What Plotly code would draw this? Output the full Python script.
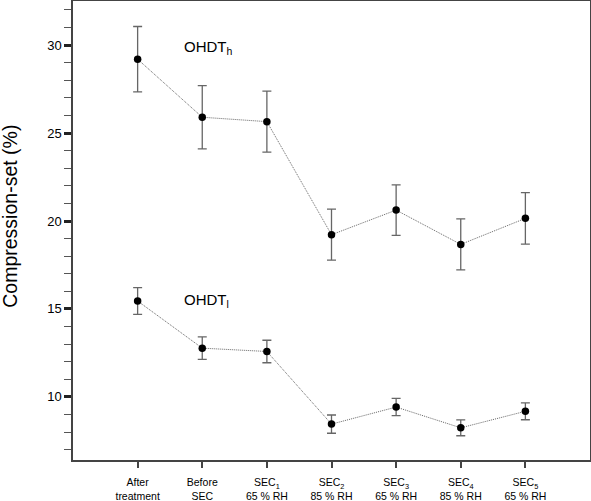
"""
Compression-set of OHDT samples across sorption cycles
"""
import plotly.graph_objects as go

categories = ['After<br>treatment', 'Before<br>SEC',
              'SEC<sub>1</sub><br>65 % RH', 'SEC<sub>2</sub><br>85 % RH',
              'SEC<sub>3</sub><br>65 % RH', 'SEC<sub>4</sub><br>85 % RH',
              'SEC<sub>5</sub><br>65 % RH']
xpos = [0, 1, 2, 3, 4, 5, 6]

# OHDT_h series
high_mean = [29.2, 25.9, 25.65, 19.22, 20.62, 18.67, 20.15]
high_err = [1.86, 1.8, 1.73, 1.45, 1.44, 1.45, 1.46]

# OHDT_l series
low_mean = [15.45, 12.77, 12.58, 8.45, 9.42, 8.24, 9.18]
low_err = [0.76, 0.64, 0.64, 0.52, 0.49, 0.45, 0.48]

fig = go.Figure()

for mean, err in [(high_mean, high_err), (low_mean, low_err)]:
    fig.add_trace(go.Scatter(
        x=xpos,
        y=mean,
        mode='lines+markers',
        line=dict(color='#666666', width=1, dash='1px,1px'),
        marker=dict(color='black', size=7.5),
        error_y=dict(type='data', array=err, visible=True,
                     color='#666666', thickness=1.3, width=4.5),
        showlegend=False,
    ))

fig.add_annotation(x=0.68, y=29.85, text='OHDT<sub>h</sub>', showarrow=False,
                   xanchor='left', yanchor='middle',
                   font=dict(family='Liberation Sans', size=15, color='black'))
fig.add_annotation(x=0.68, y=15.5, text='OHDT<sub>l</sub>', showarrow=False,
                   xanchor='left', yanchor='middle',
                   font=dict(family='Liberation Sans', size=15, color='black'))

# y axis title placed by hand to sit where the original one is
fig.add_annotation(x=-0.122, y=0.532, xref='paper', yref='paper',
                   text='Compression-set (%)', textangle=-90, showarrow=False,
                   xanchor='center', yanchor='middle',
                   font=dict(family='Liberation Sans', size=19.5, color='black'))

fig.update_layout(
    width=591,
    height=501,
    template='plotly_white',
    plot_bgcolor='white',
    paper_bgcolor='white',
    font=dict(family='Liberation Sans', color='black'),
    margin=dict(l=73, r=1, t=1, b=41),
    xaxis=dict(
        range=[-1, 7],
        tickmode='array',
        tickvals=xpos,
        ticktext=categories,
        ticks='outside',
        ticklen=6,
        tickwidth=1.5,
        tickcolor='#444444',
        tickfont=dict(size=10.5),
        ticklabelstandoff=6,
        showline=True,
        linecolor='#444444',
        linewidth=1.5,
        mirror=True,
        showgrid=False,
        zeroline=False,
        automargin=False,
    ),
    yaxis=dict(
        range=[6.41, 32.51],
        tickvals=[10, 15, 20, 25, 30],
        ticks='outside',
        ticklen=7,
        tickwidth=2.5,
        tickcolor='#222222',
        tickfont=dict(size=13),
        minor=dict(dtick=1, tick0=0, ticks='outside', ticklen=7,
                   tickwidth=1, tickcolor='#555555', showgrid=False),
        showline=True,
        linecolor='#444444',
        linewidth=1.5,
        mirror=True,
        showgrid=False,
        zeroline=False,
        automargin=False,
    ),
)

fig.write_html('out.html', config={'displayModeBar': False},
               post_script="document.body.style.margin='0';")
